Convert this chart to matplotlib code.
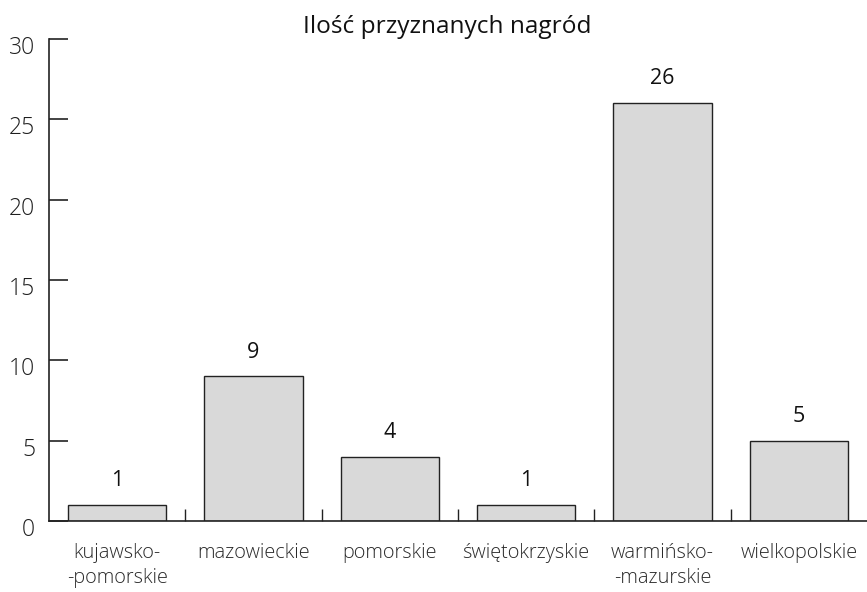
import matplotlib
matplotlib.use("Agg")
import matplotlib.pyplot as plt
import matplotlib.transforms as mtransforms
import numpy as np

plt.rcParams['font.family'] = ['Open Sans', 'DejaVu Sans']

# data
categories = ["kujawsko-\n-pomorskie", "mazowieckie", "pomorskie",
              "świętokrzyskie", "warmińsko-\n-mazurskie", "wielkopolskie"]
awards = [1, 9, 4, 1, 26, 5]
y_ticks = [0, 5, 10, 15, 20, 25, 30]

fig = plt.figure(figsize=(8.67, 5.92), dpi=100)
ax = fig.add_axes([49 / 867, 1 - 521 / 592, (867 - 49) / 867, (521 - 39) / 592])

x = np.arange(len(categories))
bars = ax.bar(x, awards, width=0.72, color="#d9d9d9", edgecolor="#222222",
              linewidth=1.0, zorder=2)

for xi, v in zip(x, awards):
    ax.annotate(str(v), (xi, v), xytext=(0, 10), textcoords="offset points",
                ha="center", va="bottom", fontsize=15.5, color="#111111")

ax.set_xlim(-0.5, len(categories) - 0.5)
ax.set_ylim(0, 30)
ax.set_yticks(y_ticks)
ax.set_xticks(x)
ax.set_xticklabels(categories, fontsize=14.3, color="#2a2a2a",
                   linespacing=1.3, fontweight='light')
ax.set_xticks(x[:-1] + 0.5, minor=True)

ax.spines['top'].set_visible(False)
ax.spines['right'].set_visible(False)
for s in ['left', 'bottom']:
    ax.spines[s].set_linewidth(1.2)
    ax.spines[s].set_color("#222222")

ax.tick_params(axis='y', direction='in', length=14, width=1.2, color="#222222",
               labelsize=16.5, labelcolor="#1e1e1e", pad=10)
ax.tick_params(axis='x', which='major', length=0, pad=16)
ax.tick_params(axis='x', which='minor', direction='in', length=8.5, width=1.0,
               color="#222222")

# y labels sit a little below their ticks
offset = mtransforms.ScaledTranslation(0, -6 / 100, fig.dpi_scale_trans)
for lab in ax.get_yticklabels():
    lab.set_transform(lab.get_transform() + offset)
    lab.set_fontweight('light')

ax.set_title("Ilość przyznanych nagród", fontsize=17.6, color="#111111",
             x=0.487, pad=4)

fig.savefig("out.png", dpi=100)
